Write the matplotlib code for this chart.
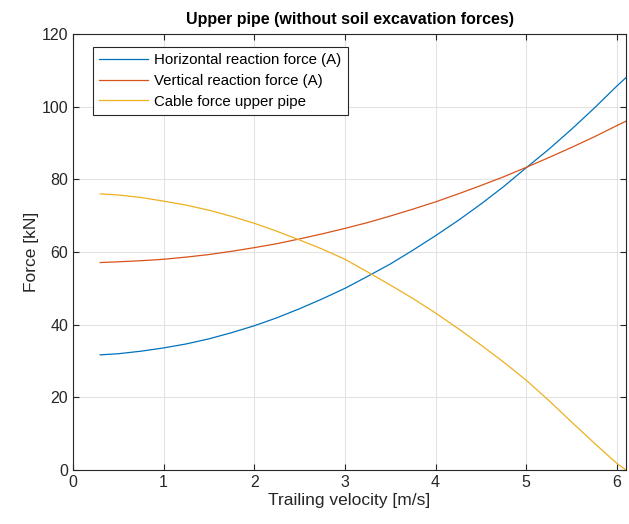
import matplotlib
matplotlib.use("Agg")
import matplotlib.pyplot as plt

# Trailing velocity [m/s] and forces [kN]
velocity = [0.3, 0.5, 0.75, 1.0, 1.25, 1.5, 1.75, 2.0, 2.25, 2.5, 2.75, 3.0, 3.25,
            3.5, 3.75, 4.0, 4.25, 4.5, 4.75, 5.0, 5.25, 5.5, 5.75, 6.0, 6.1]
horizontal_force = [31.7, 32.0, 32.7, 33.6, 34.7, 36.1, 37.8, 39.7, 41.9, 44.4, 47.1, 50.0, 53.3,
                    56.7, 60.5, 64.5, 68.7, 73.2, 78.0, 83.2, 88.3, 93.8, 99.6, 105.7, 108.0]
vertical_force = [57.1, 57.3, 57.6, 58.0, 58.6, 59.3, 60.2, 61.2, 62.3, 63.6, 65.0, 66.5, 68.1,
                  69.9, 71.8, 73.8, 76.0, 78.3, 80.7, 83.3, 86.0, 88.8, 91.7, 94.8, 96.0]
cable_force = [76.0, 75.7, 75.0, 74.0, 72.9, 71.5, 69.8, 67.9, 65.7, 63.3, 60.8, 58.0, 54.5,
               50.9, 47.2, 43.2, 38.9, 34.4, 29.7, 24.7, 19.1, 13.2, 7.4, 1.8, 0.0]

labels = ["Horizontal reaction force (A)", "Vertical reaction force (A)", "Cable force upper pipe"]
colors = ["#0072BD", "#D95319", "#EDB120"]

plt.rcParams["font.family"] = ["Liberation Sans", "DejaVu Sans"]
axis_color = "#262626"

fig = plt.figure(figsize=(6.29, 5.24), dpi=100)
ax = fig.add_axes([73 / 629, 1 - 470 / 524, (626 - 73) / 629, (470 - 34) / 524])

for series, lab, col in zip([horizontal_force, vertical_force, cable_force], labels, colors):
    ax.plot(velocity, series, color=col, lw=0.9, label=lab)

ax.set_xlim(0, 6.1)
ax.set_ylim(0, 120)
ax.set_xticks(range(0, 7))
ax.set_yticks(range(0, 121, 20))
ax.grid(True, color="#e3e3e3", lw=0.8)
ax.set_axisbelow(True)
ax.tick_params(direction="in", top=True, right=True, length=4, labelsize=11.5,
               colors=axis_color, width=0.8)
for s in ax.spines.values():
    s.set_color(axis_color)
    s.set_linewidth(0.8)

ax.set_xlabel("Trailing velocity [m/s]", fontsize=12.5, color=axis_color, labelpad=2)
ax.set_ylabel("Force [kN]", fontsize=12.5, color=axis_color, labelpad=2)
ax.set_title("Upper pipe (without soil excavation forces)", fontsize=11.5,
             fontweight="bold", color="black", pad=7)

leg = ax.legend(loc="upper left", bbox_to_anchor=(0.036, 0.97), fontsize=10.8,
                fancybox=False, framealpha=1, edgecolor=axis_color,
                borderpad=0.4, labelspacing=0.45, handlelength=3.3,
                handletextpad=0.4, borderaxespad=0)
leg.get_frame().set_linewidth(0.8)

fig.savefig("out.png", dpi=100)
